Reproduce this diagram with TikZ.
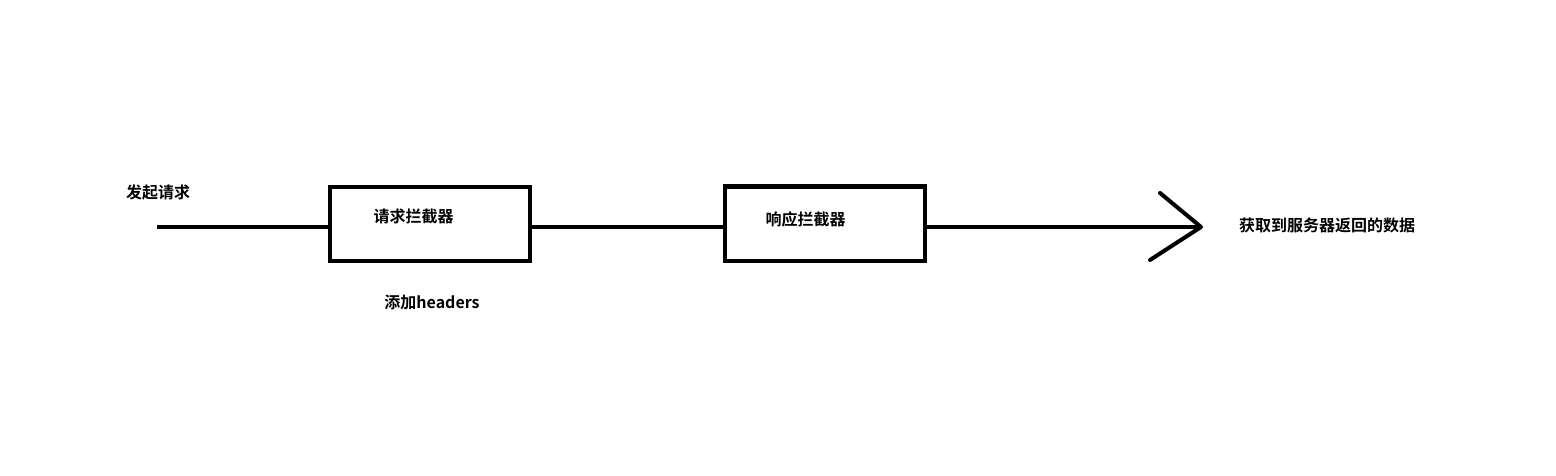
\documentclass[tikz,border=0pt]{standalone}
\usepackage{fontspec}
\newfontfamily\cjk{Noto Sans CJK SC Bold}
\usepackage{tikz}
\usetikzlibrary{positioning, calc}
\usetikzlibrary{arrows.meta}

\begin{document}
\begin{tikzpicture}[x=1pt,y=-1pt,draw=black!100]
	\def \attic{192}
	\def \rowtext{216}
	\def \rowone{227}
	\def \basement{302}

	\tikzstyle{i-box}=[rectangle,draw=black!100,line width=4pt,inner sep=0pt,minimum width=200pt,minimum height=74pt]
	\tikzstyle{label}=[inner sep=0pt,font=\cjk\fontsize{16}{19}\selectfont]
	\tikzstyle{wire}=[line width=4pt]

	\useasboundingbox (0,0) rectangle (1556,476);

	% boxes
	\node[i-box]	(req-box)	at (429.75,224)		{};
	\node[i-box]	(res-box)	at (824.5,223.5)	{};

	% labels
	\node[label]	(start-l)	at (158,\attic)		{发起请求};
	\node[label]	(req-l)		at (413.5,\rowtext)	{请求拦截器};
	\node[label]	(res-l)		at (805.5,219.5)	{响应拦截器};
	\node[label]	(head-l)	at (432,\basement)	{添加headers};
	\node[label]	(data-l)	at (1327,225)		{获取到服务器返回的数据};

	\coordinate	(start)	at (157,\rowone);
	\coordinate	(tip)	at (1201,\rowone);
	\coordinate	(barb-up)	at (1160,193);
	\coordinate	(barb-dn)	at (1150,260);

	% wires
	\draw[wire] (start) -- (start -| req-box.west);
	\draw[wire] (req-box.east |- start) -- (res-box.west |- start);
	\draw[wire] (res-box.east |- start) -- (tip);
	\draw[wire,line cap=round,line join=round] (barb-up) -- (tip) -- (barb-dn);
\end{tikzpicture}
\end{document}
